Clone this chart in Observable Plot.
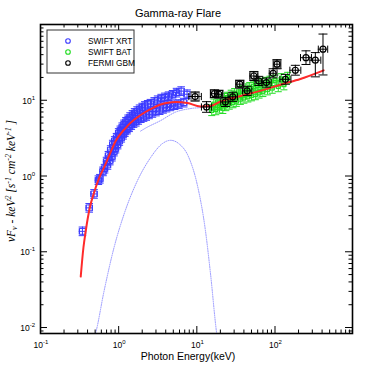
<!DOCTYPE html>
<html><head><meta charset="utf-8">
<script src="https://cdn.jsdelivr.net/npm/d3@7"></script>
<script src="https://cdn.jsdelivr.net/npm/@observablehq/plot@0.6"></script>
<style>body{margin:0;background:#fff}svg{display:block}</style>
</head><body><div id="chart"></div>
<script>
// ---- data ----
const xrtE = [0.344,0.42,0.484,0.55,0.575,0.63,0.66,0.70,0.72,0.74,0.77,0.79,0.82,0.84,0.87,0.89,0.91,0.94,0.97,1.0,1.02,1.05,1.08,1.11,1.14,1.17,1.2,1.24,1.28,1.32,1.36,1.4,1.45,1.5,1.55,1.6,1.66,1.72,1.78,1.85,1.92,2.0,2.08,2.16,2.25,2.35,2.45,2.55,2.7,2.85,3.0,3.15,3.35,3.5,3.7,3.9,4.1,4.35,4.6,4.9,5.2,5.5,5.9,6.3,6.8,7.5];
const xrtF = [0.186,0.38,0.58,0.88,0.92,1.15,1.25,1.55,1.4,1.85,1.6,2.2,1.8,2.6,2.1,2.9,2.3,3.2,2.6,3.7,2.9,4.0,3.2,4.4,3.5,4.8,3.8,5.2,4.1,5.6,4.4,6.0,4.7,6.4,5.0,6.8,5.2,7.2,5.5,7.6,5.8,8.0,6.0,8.4,6.2,8.7,6.5,9.0,6.8,9.5,7.1,10.0,7.4,10.5,7.7,10.9,8.0,11.3,8.3,11.8,8.6,12.6,8.9,13.2,9.3,12.0];
const batE = [15.5,16.5,17.5,18.5,19.5,20.5,21.5,22.5,23.5,24.5,26,27.5,29,30.5,32,34,36,38,40,42.5,45,47.5,50,53,56,59,62.5,66,70,75,80,86,92,100,110,120,130,145];
const batF = [7.4,8.8,7.6,9.4,8.0,9.9,7.9,10.4,8.6,10.8,9.0,11.5,9.4,12.1,9.8,12.8,10.4,13.2,10.8,13.9,11.2,14.5,11.6,15.2,12.0,15.8,12.6,16.4,13.2,17.0,13.9,17.6,14.6,18.2,15.3,19.0,16.2,19.8];
const gbmE = [9.5,13.3,16.8,19.1,23.2,28.8,35.4,44,53.6,62,77.7,94.6,106,136,182,249,328,411];
const gbmF = [11.2,8.15,12.2,12.0,9.5,11.1,16.3,13.3,20.9,18.0,17.1,22.7,29.9,18.9,24.9,36.5,33.8,47.2];
const gbmXerr = [0.08,0.065,0.05,0.05,0.06,0.06,0.05,0.06,0.05,0.05,0.06,0.05,0.04,0.07,0.07,0.07,0.07,0.06]; // dex
const gbmYlo  = [0.06,0.07,0.05,0.05,0.06,0.06,0.05,0.06,0.06,0.06,0.06,0.06,0.06,0.065,0.065,0.09,0.22,0.34]; // dex
const gbmYhi  = [0.06,0.07,0.05,0.05,0.06,0.06,0.05,0.06,0.06,0.06,0.06,0.06,0.06,0.065,0.065,0.09,0.10,0.20]; // dex
const gbmBoxed = [1,0,1,1,0,0,1,0,1,0,0,0,1,0,0,0,0,0];
const totalE = [0.327,0.354,0.379,0.427,0.484,0.56,0.649,0.752,0.916,1.2,1.6,2.2,2.8,3.44,4.3,5.35,7.6,11.1,15,20.1,36.2,65,123,211,419];
const totalF = [0.047,0.113,0.188,0.381,0.602,0.933,1.29,1.84,2.9,4.2,5.6,7.0,8.0,8.8,9.3,9.5,9.2,8.28,8.4,9.64,11.4,13.3,16.3,19.1,24.8];
const bbE = [0.49,0.508,0.649,0.871,1.17,1.73,2.56,3.61,4.62,5.89,7.91,10.1,12.9,15.0,17.9,18.3];
const bbF = [0.0075,0.0085,0.030,0.113,0.312,0.86,1.75,2.67,2.96,2.67,1.75,0.777,0.188,0.05,0.0085,0.0072];
const plE = [1.91,2.21,3.44,5.35,8.3,12.2,20,36.2,65,123,211,419];
const plF = [3.92,4.29,5.39,6.98,7.77,8.1,9.3,11.2,13.2,16.2,19.0,24.6];
const xrtRelErrY = 0.14, xrtRelErrX = 0.1, batRelErrY = 0.18, batRelErrX = 0.05;
const legendLabels = ["SWIFT XRT","SWIFT BAT","FERMI GBM"];
const xMajor = [0.1,1,10,100], xExp = ["-1","0","1","2"];
const yMajor = [0.01,0.1,1,10], yExp = ["-2","-1","0","1"];
const title = "Gamma-ray Flare", xTitle = "Photon Energy(keV)";

// ---- colours ----
const cXRT = "#3b3bff", cBAT = "#22dd22", cGBM = "#000", cTot = "#ff2a2a", cComp = "#7c7cff";

// build tables
const xrt = xrtE.map((e,i)=>({x:e,y:xrtF[i],x1:e/(1+xrtRelErrX),x2:e*(1+xrtRelErrX),y1:xrtF[i]/(1+xrtRelErrY),y2:xrtF[i]*(1+xrtRelErrY)}));
const bat = batE.map((e,i)=>({x:e,y:batF[i],x1:e/(1+batRelErrX),x2:e*(1+batRelErrX),y1:batF[i]/(1+batRelErrY),y2:batF[i]*(1+batRelErrY)}));
const gbm = gbmE.map((e,i)=>({x:e,y:gbmF[i],x1:e/10**gbmXerr[i],x2:e*10**gbmXerr[i],y1:gbmF[i]/10**gbmYlo[i],y2:gbmF[i]*10**gbmYhi[i],boxed:gbmBoxed[i]}));
const total = totalE.map((e,i)=>({x:e,y:totalF[i]}));
const bb = bbE.map((e,i)=>({x:e,y:bbF[i]}));
const pl = plE.map((e,i)=>({x:e,y:plF[i]}));

const hcap = {draw(ctx,size){const r=Math.sqrt(size/Math.PI);ctx.moveTo(-r,0);ctx.lineTo(r,0);}};
const vcap = {draw(ctx,size){const r=Math.sqrt(size/Math.PI);ctx.moveTo(0,-r);ctx.lineTo(0,r);}};

function errMarks(data, color, capR, sw){
  return [
    Plot.ruleX(data,{x:"x",y1:"y1",y2:"y2",stroke:color,strokeWidth:sw}),
    Plot.ruleY(data,{y:"y",x1:"x1",x2:"x2",stroke:color,strokeWidth:sw}),
    Plot.dot(data,{x:"x",y:"y1",symbol:hcap,r:capR,stroke:color,strokeWidth:sw}),
    Plot.dot(data,{x:"x",y:"y2",symbol:hcap,r:capR,stroke:color,strokeWidth:sw}),
    Plot.dot(data,{x:"x1",y:"y",symbol:vcap,r:capR*0.8,stroke:color,strokeWidth:sw}),
    Plot.dot(data,{x:"x2",y:"y",symbol:vcap,r:capR*0.8,stroke:color,strokeWidth:sw})
  ];
}

const mT=24, mR=14, mB=33, mL=40, W=366, H=366;
const fH = H-mT-mB, fW = W-mL-mR;
const xMinor = [], yMinor = [];
for (const d of [0.1,1,10,100]) for (let k=2;k<=9;k++){ if (d*k<980) xMinor.push(d*k); }
for (const d of [0.001,0.01,0.1,1,10]) for (let k=2;k<=9;k++){ const v=d*k; if (v>0.00834 && v<100) yMinor.push(v); }

const plot = Plot.plot({
  width:W, height:H, marginTop:mT, marginRight:mR, marginBottom:mB, marginLeft:mL,
  style:{background:"#fff", overflow:"visible"},
  x:{type:"log", domain:[0.1,980], axis:null},
  y:{type:"log", domain:[0.00834,100], axis:null},
  marks:[
    // model components
    Plot.line(bb,{x:"x",y:"y",stroke:cComp,strokeWidth:0.8,strokeDasharray:"1,1.3",curve:"monotone-x",clip:true}),
    Plot.line(pl,{x:"x",y:"y",stroke:cComp,strokeWidth:0.8,strokeDasharray:"1,1.3",curve:"monotone-x",clip:true}),
    // XRT
    ...errMarks(xrt,cXRT,3.8,1),
    Plot.dot(xrt,{x:"x",y:"y",symbol:"square",r:3.3,stroke:cXRT,strokeWidth:1}),
    // BAT
    ...errMarks(bat,cBAT,3.5,1),
    Plot.dot(bat,{x:"x",y:"y",symbol:"square",r:2.5,stroke:cBAT,strokeWidth:1}),
    // total model
    Plot.line(total,{x:"x",y:"y",stroke:cTot,strokeWidth:2,curve:"monotone-x",clip:true}),
    // GBM
    Plot.dot(gbm.filter(d=>d.boxed),{x:"x",y:"y",symbol:"square",r:4.5,stroke:"#888",strokeWidth:1.5}),
    ...errMarks(gbm,cGBM,4.5,1),
    Plot.dot(gbm,{x:"x",y:"y",r:3,stroke:cGBM,strokeWidth:1.2}),
    // ticks (inward, all four sides)
    Plot.ruleX(xMajor,{x:d=>d,insetTop:fH-7,stroke:"#000"}),
    Plot.ruleX(xMinor,{x:d=>d,insetTop:fH-3.5,stroke:"#000"}),
    Plot.ruleX(xMajor,{x:d=>d,insetBottom:fH-7,stroke:"#000"}),
    Plot.ruleX(xMinor,{x:d=>d,insetBottom:fH-3.5,stroke:"#000"}),
    Plot.ruleY(yMajor,{y:d=>d,insetRight:fW-7,stroke:"#000"}),
    Plot.ruleY(yMinor,{y:d=>d,insetRight:fW-3.5,stroke:"#000"}),
    Plot.ruleY(yMajor,{y:d=>d,insetLeft:fW-7,stroke:"#000"}),
    Plot.ruleY(yMinor,{y:d=>d,insetLeft:fW-3.5,stroke:"#000"}),
    Plot.frame({stroke:"#000",strokeWidth:1.6})
  ]
});
document.getElementById("chart").appendChild(plot);

const sx = plot.scale("x"), sy = plot.scale("y");
const svg = d3.select(plot);
const sans = "Liberation Sans, Arial, Helvetica, sans-serif";

// tick labels
xMajor.forEach((v,i)=>{
  const t = svg.append("text").attr("x",sx.apply(v)+1).attr("y",348).attr("text-anchor","middle")
    .attr("font-family",sans).attr("font-size",8.5).attr("fill","#000");
  t.append("tspan").text("10");
  t.append("tspan").attr("dy",-4).attr("font-size",6).text(xExp[i]);
});
yMajor.forEach((v,i)=>{
  const t = svg.append("text").attr("x",35).attr("y",sy.apply(v)+4).attr("text-anchor","end")
    .attr("font-family",sans).attr("font-size",8.5).attr("fill","#000");
  t.append("tspan").text("10");
  t.append("tspan").attr("dy",-4).attr("font-size",6).text(yExp[i]);
});

// titles
svg.append("text").attr("x",178).attr("y",17).attr("text-anchor","middle")
  .attr("font-family",sans).attr("font-size",11).text(title);
svg.append("text").attr("x",188).attr("y",360).attr("text-anchor","middle")
  .attr("font-family",sans).attr("font-size",10.5).text(xTitle);

// y axis label (italic serif with sub/superscripts)
const yl = svg.append("text").attr("transform","translate(15,181) rotate(-90)").attr("text-anchor","middle")
  .attr("font-family","Liberation Serif, Times New Roman, serif").attr("font-style","italic").attr("font-size",11.5);
const parts = [["νF",0],["ν",2],[" - keV",-2],["2",-4],[" [s",4],["-1",-4],[" cm",4],["-2",-4],[" keV",4],["-1",-4],[" ]",4]];
parts.forEach(([s,dy],i)=>{
  const sp = yl.append("tspan").text(s);
  if (dy) sp.attr("dy",dy);
  if (i===1 || i===3 || i===5 || i===7 || i===9) sp.attr("font-size",8);
});

// legend
const lg = svg.append("g");
lg.append("rect").attr("x",47).attr("y",30).attr("width",87).attr("height",43)
  .attr("fill","#fff").attr("stroke","#333").attr("stroke-width",1);
[cXRT,cBAT,cGBM].forEach((c,i)=>{
  const yy = 41 + i*11;
  lg.append("circle").attr("cx",68).attr("cy",yy).attr("r",2.3).attr("fill","none").attr("stroke",c).attr("stroke-width",1.1);
  lg.append("text").attr("x",88).attr("y",yy+3).attr("text-anchor","start").attr("font-family",sans).attr("font-size",8.3).text(legendLabels[i]);
});
</script>
</body></html>
